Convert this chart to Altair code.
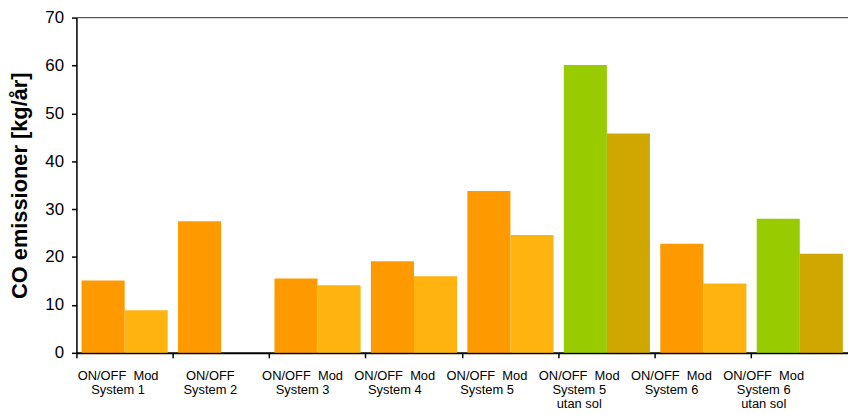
import altair as alt
import pandas as pd

groups = ["System 1", "System 2", "System 3", "System 4", "System 5",
          "System 5 utan sol", "System 6", "System 6 utan sol"]
onoff = [15.1, 27.5, 15.5, 19.1, 33.8, 60.1, 22.8, 28.0]
mod = [8.9, None, 14.1, 16.0, 24.6, 45.8, 14.5, 20.7]
utan_sol = [False, False, False, False, False, True, False, True]

NB = "\u00a0"
line1 = ["ON/OFF" + NB * 2 + "Mod", "ON/OFF" + NB * 9] + ["ON/OFF" + NB * 2 + "Mod"] * 6
line2 = ["System 1", "System 2", "System 3", "System 4", "System 5",
         "System 5", "System 6", "System 6"]
line3 = ["", "", "", "", "", "utan sol", "", "utan sol"]

types = ["ON/OFF", "Mod"]
fill_domain = ["orange", "orange_mod", "green", "green_mod"]
fill_range = ["#FF9900", "#FFB30F", "#99CC00", "#D0A600"]

rows = []
for g, a, b, green in zip(groups, onoff, mod, utan_sol):
    rows.append({"group": g, "typ": "ON/OFF", "value": a,
                 "fill": "green" if green else "orange"})
    if b is not None:
        rows.append({"group": g, "typ": "Mod", "value": b,
                     "fill": "green_mod" if green else "orange_mod"})
bars_df = pd.DataFrame(rows)

labels_df = pd.DataFrame({
    "group": groups,
    "label": [a + "\n" + b + ("\n" + c if c else "") for a, b, c in zip(line1, line2, line3)],
})

FONT = "Liberation Sans"

bars = alt.Chart(bars_df).mark_bar(strokeWidth=0).encode(
    x=alt.X("group:N", sort=groups,
            scale=alt.Scale(domain=groups, paddingInner=0, paddingOuter=0),
            axis=alt.Axis(title=None, labels=False, bandPosition=0, ticks=True,
                          tickSize=5, tickColor="black", tickWidth=1.5,
                          domainColor="black", domainWidth=2)),
    xOffset=alt.XOffset("typ:N", sort=types,
                        scale=alt.Scale(domain=types, paddingInner=0, paddingOuter=0.12)),
    y=alt.Y("value:Q", scale=alt.Scale(domain=[0, 70], nice=False),
            axis=alt.Axis(values=list(range(0, 71, 10)), title="CO emissioner [kg/år]",
                          grid=False, tickSize=5, tickColor="black", tickWidth=1.5,
                          domainColor="black", domainWidth=1.5,
                          labelFont=FONT, labelFontSize=17, labelColor="black",
                          labelPadding=8, titleFont=FONT, titleFontSize=22,
                          titleFontWeight="bold", titleColor="black", titlePadding=13)),
    color=alt.Color("fill:N", scale=alt.Scale(domain=fill_domain, range=fill_range),
                    legend=None),
)

top_rule = alt.Chart(pd.DataFrame({"v": [70]})).mark_rule(
    color="#404040", strokeWidth=1
).encode(y=alt.datum(70))

text = alt.Chart(labels_df).mark_text(
    lineBreak="\n", font=FONT, fontSize=13, baseline="alphabetic",
    align="center", lineHeight=14.5, color="black"
).encode(
    x=alt.X("group:N", sort=groups,
            scale=alt.Scale(type="point", domain=groups, range=[42, 693], padding=0),
            axis=None),
    y=alt.value(365),
    text="label:N",
)

chart = alt.layer(bars, top_rule, text).resolve_scale(x="independent").properties(
    width=778, height=338,
    padding={"left": 69, "top": 8, "right": 0, "bottom": 60},
    autosize="none",
).configure_view(stroke=None).configure(font=FONT)

chart.save("out.html", embed_options={"renderer": "svg", "actions": False})
